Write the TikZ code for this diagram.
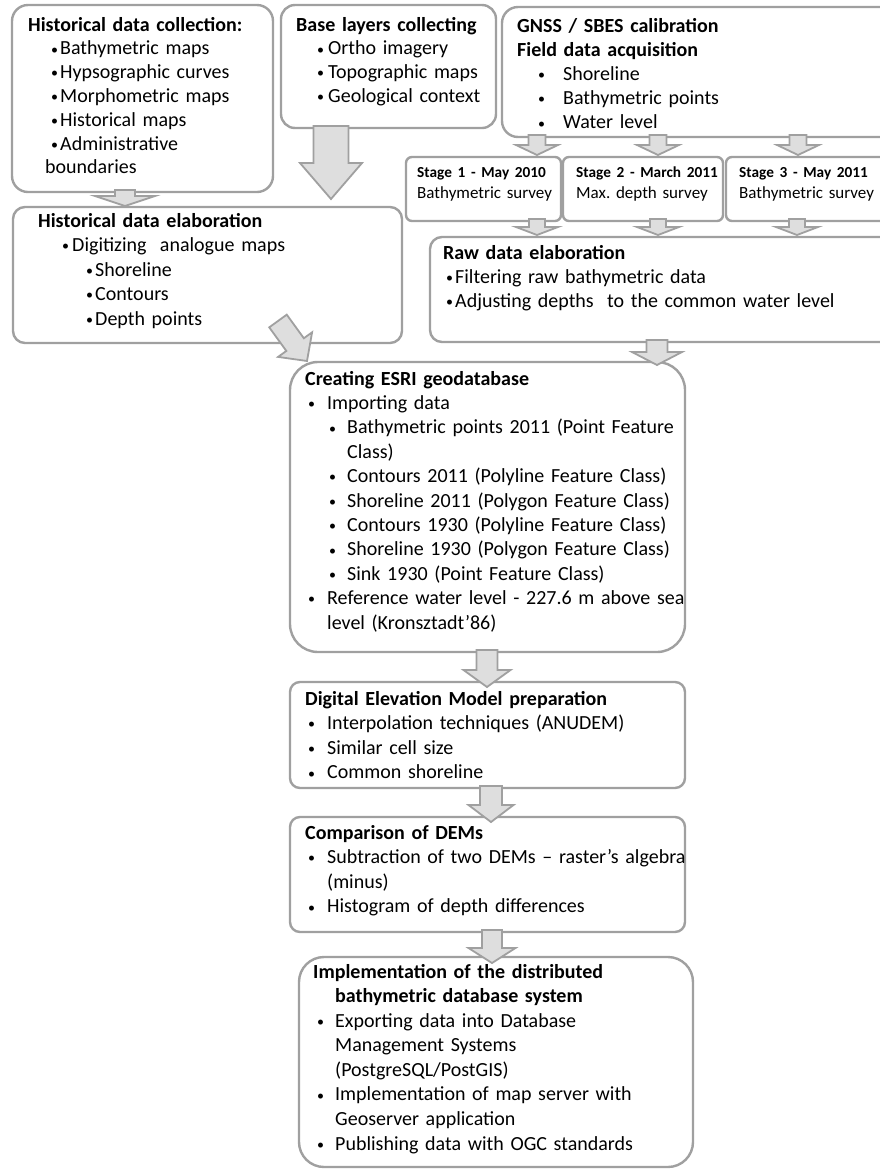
\documentclass[tikz,border=0pt]{standalone}
\usepackage{fontspec}
\setmainfont{Carlito}
\usetikzlibrary{calc}
\definecolor{bordergray}{RGB}{160,160,160}
\definecolor{arrowfill}{RGB}{222,222,222}
\newcommand\fs[2]{\fontsize{#1}{#2}\selectfont}
\newcommand\bul[2]{\hspace*{#1pt}\makebox[#2pt][l]{\raisebox{0.8pt}{\fs{14}{14}•}}}
\newcommand\ind[1]{\hspace*{#1pt}}
% box: name, x1, y1, x2, y2, radius
\newcommand\boxat[6]{\node[box,rounded corners=#6pt,minimum width={#4-#2},minimum height={#5-#3}] (#1) at (#2,#3) {};}
% vertical block arrow: x, source, target, shaft half, head half, head length, tip overshoot
\newcommand\varrow[7]{%
  \draw[barrow] let \p1=(#2.south), \p2=(#3.north) in
  ({#1-#4},{\y1+2}) -- ({#1+#4},{\y1+2}) -- ({#1+#4},{\y2-#7+#6}) -- ({#1+#5},{\y2-#7+#6})
  -- (#1,{\y2-#7}) -- ({#1-#5},{\y2-#7+#6}) -- ({#1-#4},{\y2-#7+#6}) -- cycle;}
\begin{document}
\begin{tikzpicture}[x=1pt,y=-1pt,
  box/.style={draw=bordergray,line width=2.4pt,fill=white,inner sep=0pt,outer sep=0pt,anchor=north west},
  barrow/.style={draw=bordergray,fill=arrowfill,line width=1.8pt,line join=miter},
  txt/.style={anchor=base west,inner sep=0pt,align=left,text width=420pt,execute at begin node=\frenchspacing}]
\useasboundingbox (0,0) rectangle (880,1171);
\clip (0,0) rectangle (880,1171);
\fill[white] (0,0) rectangle (880,1171);

% boxes
\boxat{A}{12}{5}{273}{192}{16}
\boxat{B}{281}{5}{496}{128}{14}
\boxat{C}{502}{7}{900}{137}{16}
\boxat{S1}{406}{157}{561}{221}{6}
\boxat{S2}{563}{157}{723}{221}{6}
\boxat{S3}{726}{157}{900}{221}{6}
\boxat{HE}{13}{207}{402}{343}{12}
\boxat{RAW}{430}{237}{900}{342}{12}
\boxat{ESRI}{290}{362}{685}{652}{28}
\boxat{DEM}{290}{682}{685}{788}{10}
\boxat{CMP}{290}{817}{685}{932}{10}
\boxat{IMP}{299}{957}{693}{1167}{25}

% arrows
\varrow{125}{A}{HE}{10}{30}{10}{-1}
\varrow{331}{B}{HE}{17.5}{31}{36}{-8}
\varrow{537}{C}{S1}{8.5}{21}{10}{-2}
\varrow{658}{C}{S2}{8.5}{21}{10}{-2}
\varrow{798}{C}{S3}{8.5}{21}{10}{-2}
\varrow{537}{S1}{RAW}{8}{21}{8}{-2}
\varrow{658}{S2}{RAW}{8}{21}{8}{-2}
\varrow{797}{S3}{RAW}{8}{21}{8}{-2}
\varrow{657}{RAW}{ESRI}{10.5}{25}{13}{3}
\varrow{487}{ESRI}{DEM}{10.5}{23.5}{17}{5}
\varrow{491}{DEM}{CMP}{11}{22.5}{17}{5}
\varrow{492}{CMP}{IMP}{10}{23.5}{15}{6}
\draw[barrow] (269.25,327.34) -- (286.75,314.66) -- (303.85,338.26) -- (312.1,332.3)
  -- (307,361) -- (278.1,356.9) -- (286.35,350.94) -- cycle;

% texts
\node[txt,font=\fs{20}{23.8}] (tA) at (28,31) {\textbf{Historical data collection:}\\
\bul{23}{9}Bathymetric maps\\
\bul{23}{9}Hypsographic curves\\
\bul{23}{9}Morphometric maps\\
\bul{23}{9}Historical maps\\
\bul{23}{9}Administrative\\
\ind{17}boundaries};

\node[txt,font=\fs{20}{23.8}] (tB) at (296,31) {\textbf{Base layers collecting}\\
\bul{21}{11}Ortho imagery\\
\bul{21}{11}Topographic maps\\
\bul{21}{11}Geological context};

\node[txt,font=\fs{20}{24.2}] (tC) at (517,32) {\textbf{GNSS / SBES calibration}\\
\textbf{Field data acquisition}\\
\bul{21}{25}Shoreline\\
\bul{21}{25}Bathymetric points\\
\bul{21}{25}Water level};

\node[txt,font=\fs{17}{21}] (tS1) at (417,177) {{\fs{15.3}{21}\textbf{Stage 1 - May 2010}}\\Bathymetric survey};
\node[txt,font=\fs{17}{21}] (tS2) at (576,177) {{\fs{15.3}{21}\textbf{Stage 2 - March 2011}}\\Max. depth survey};
\node[txt,font=\fs{17}{21}] (tS3) at (739,177) {{\fs{15.3}{21}\textbf{Stage 3 - May 2011}}\\Bathymetric survey};

\node[txt,font=\fs{20}{24.5}] (tHE) at (38,227) {\textbf{Historical data elaboration}\\
\bul{24}{10}Digitizing~ analogue maps\\
\bul{48}{9}Shoreline\\
\bul{48}{9}Contours\\
\bul{48}{9}Depth points};

\node[txt,font=\fs{20}{24}] (tRAW) at (443,259) {\textbf{Raw data elaboration}\\
\bul{3}{9}Filtering raw bathymetric data\\
\bul{3}{9}Adjusting depths~ to the common water level};

\node[txt,font=\fs{20}{24.4}] (tESRI) at (305,385) {\textbf{Creating ESRI geodatabase}\\
\bul{3}{19}Importing data\\
\bul{24}{18}Bathymetric points 2011 (Point Feature\\
\ind{42}Class)\\
\bul{24}{18}Contours 2011 (Polyline Feature Class)\\
\bul{24}{18}Shoreline 2011 (Polygon Feature Class)\\
\bul{24}{18}Contours 1930 (Polyline Feature Class)\\
\bul{24}{18}Shoreline 1930 (Polygon Feature Class)\\
\bul{24}{18}Sink 1930 (Point Feature Class)\\
\bul{3}{19}Reference water level - 227.6 m above sea\\
\ind{22}level (Kronsztadt’86)};

\node[txt,font=\fs{20}{24.6}] (tDEM) at (305,705) {\textbf{Digital Elevation Model preparation}\\
\bul{3}{19}Interpolation techniques (ANUDEM)\\
\bul{3}{19}Similar cell size\\
\bul{3}{19}Common shoreline};

\node[txt,font=\fs{20}{24.6}] (tCMP) at (305,839) {\textbf{Comparison of DEMs}\\
\bul{3}{19}Subtraction of two DEMs – raster’s algebra\\
\ind{22}(minus)\\
\bul{3}{19}Histogram of depth differences};

\node[txt,font=\fs{20}{24.57}] (tIMP) at (313,978) {\textbf{Implementation of the distributed}\\
\ind{22}\textbf{bathymetric database system}\\
\bul{4}{18}Exporting data into Database\\
\ind{22}Management Systems\\
\ind{22}(PostgreSQL/PostGIS)\\
\bul{4}{18}Implementation of map server with\\
\ind{22}Geoserver application\\
\bul{4}{18}Publishing data with OGC standards};
\end{tikzpicture}
\end{document}
